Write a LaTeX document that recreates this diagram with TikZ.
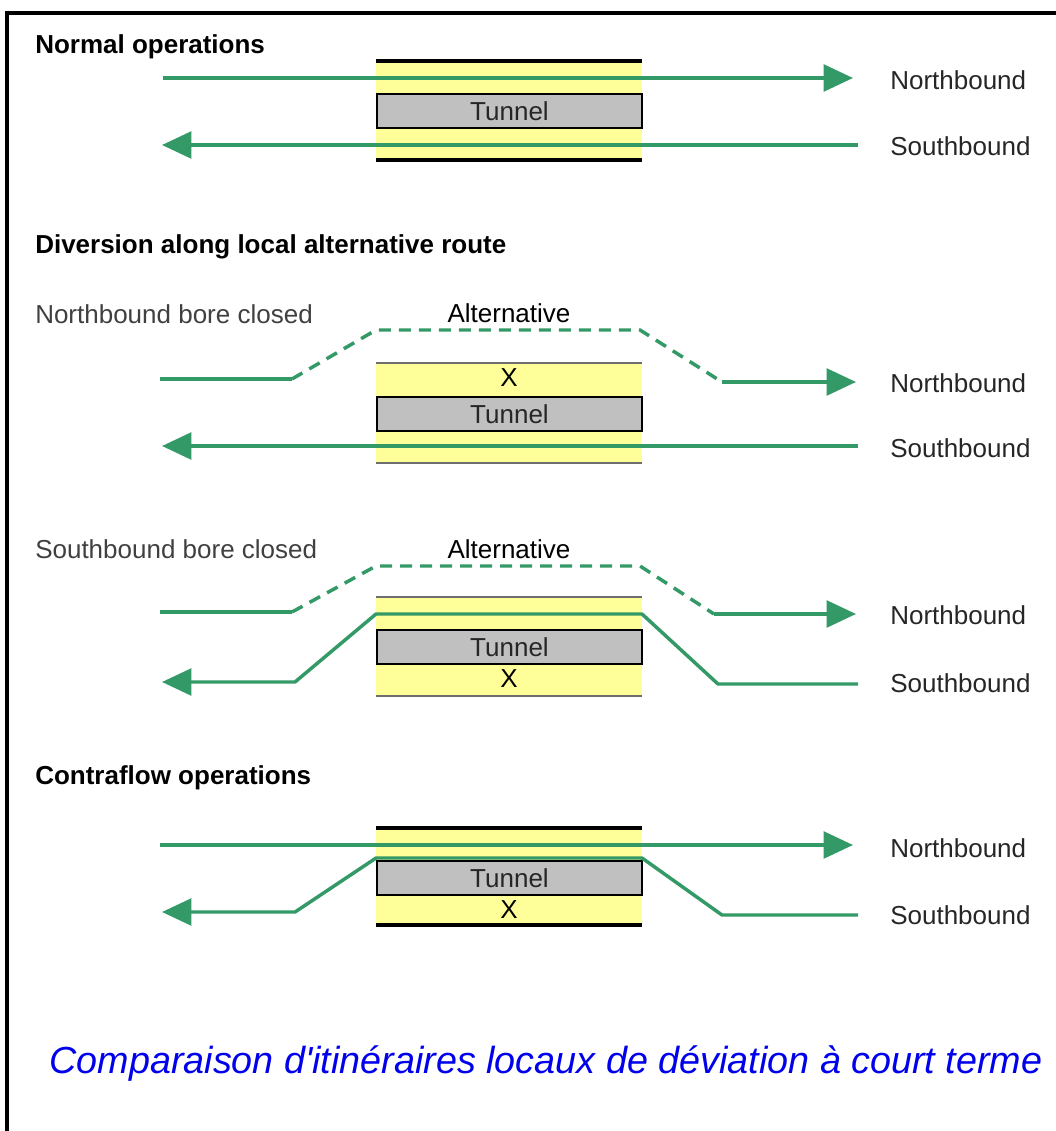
\documentclass[tikz,border=0pt]{standalone}
\usepackage{fontspec}
\setmainfont{Liberation Sans}
\newfontfamily\capfont{Liberation Sans}[Ligatures=TeXOff]
\usetikzlibrary{arrows.meta}
\definecolor{rgreen}{RGB}{51,153,102}
\definecolor{ryellow}{RGB}{255,255,153}
\definecolor{rgrey}{RGB}{192,192,192}
\definecolor{rblue}{RGB}{0,0,235}
\definecolor{edgegrey}{RGB}{110,110,110}
\begin{document}
\begin{tikzpicture}[x=0.75pt,y=-0.75pt,
  lbl/.style={anchor=west,inner sep=0pt,font=\fontsize{19.5}{22}\selectfont,text=black!85},
  sublbl/.style={anchor=west,inner sep=0pt,font=\fontsize{19.5}{22}\selectfont,text=black!75},
  head/.style={anchor=west,inner sep=0pt,font=\bfseries\fontsize{19.5}{22}\selectfont},
  alttxt/.style={inner sep=0pt,font=\fontsize{19.5}{22}\selectfont},
  xmark/.style={inner sep=0pt,font=\fontsize{19.5}{22}\selectfont},
  tunnel/.style={draw=black,line width=1.5pt,fill=rgrey,minimum width=198.5pt,minimum height=25pt,inner sep=0pt,font=\fontsize{19.5}{22}\selectfont,text=black!85},
  route/.style={draw=rgreen,line width=2.6pt,line join=round},
  alt/.style={route,dash pattern=on 9pt off 6pt},
  tip/.style={-{Triangle[length=22pt,width=20pt]}},
  blackedge/.style={line width=3pt,black},
  greyedge/.style={line width=2pt,edgegrey}
]
\useasboundingbox (0,0) rectangle (1056,1131);
\draw[line width=2.5pt] (7,1131) -- (7,13) -- (1056,13);

% ---------- Section 1: Normal operations
\node[head] (h1) at (35,47) {Normal operations};
\fill[ryellow] (376,61) rectangle (642,160);
\draw[blackedge] (376,61) -- (642,61);
\draw[blackedge] (376,160) -- (642,160);
\node[tunnel] (tn1) at (509.5,111) {Tunnel};
\coordinate (a1) at (163,78);
\coordinate (b1) at (853,78);
\draw[route,tip] (a1) -- (b1);
\coordinate (c1) at (858,145);
\coordinate (d1) at (162,145);
\draw[route,tip] (c1) -- (d1);
\node[lbl] (nb1) at (890,80) {Northbound};
\node[lbl] (sb1) at (890,146) {Southbound};

% ---------- Section 2
\node[head] (h2) at (35,247) {Diversion along local alternative route};
\node[sublbl] (s2) at (35,314) {Northbound bore closed};
\node[alttxt] (alt2) at (509,313) {Alternative};
\fill[ryellow] (376,363) rectangle (642,463);
\draw[greyedge] (376,363) -- (642,363);
\draw[greyedge] (376,463) -- (642,463);
\node[xmark] (x2) at (509,378) {X};
\node[tunnel] (tn2) at (509.5,414) {Tunnel};
\coordinate (n2a) at (160,379);
\coordinate (n2b) at (292,379);
\coordinate (n2c) at (376,330);
\coordinate (n2d) at (640,330);
\coordinate (n2e) at (722,382);
\coordinate (n2f) at (856,382);
\draw[route] (n2a) -- (n2b);
\draw[alt] (n2b) -- (n2c) -- (n2d) -- (n2e);
\draw[route,tip] (n2e) -- (n2f);
\coordinate (s2a) at (858,446);
\coordinate (s2b) at (162,446);
\draw[route,tip] (s2a) -- (s2b);
\node[lbl] (nb2) at (890,383) {Northbound};
\node[lbl] (sb2) at (890,448) {Southbound};

% ---------- Section 3
\node[sublbl] (s3) at (35,549) {Southbound bore closed};
\node[alttxt] (alt3) at (509,549) {Alternative};
\fill[ryellow] (376,597) rectangle (642,697);
\draw[greyedge] (376,597) -- (642,597);
\draw[greyedge] (376,696) -- (642,696);
\node[tunnel] (tn3) at (509.5,647) {Tunnel};
\node[xmark] (x3) at (509,679) {X};
\coordinate (n3a) at (160,612);
\coordinate (n3b) at (292,612);
\coordinate (n3c) at (376,566);
\coordinate (n3d) at (640,566);
\coordinate (n3e) at (714,614);
\coordinate (n3f) at (856,614);
\draw[route] (n3a) -- (n3b);
\draw[alt] (n3b) -- (n3c) -- (n3d) -- (n3e);
\draw[route,tip] (n3e) -- (n3f);
\coordinate (s3a) at (858,684);
\coordinate (s3b) at (718,684);
\coordinate (s3c) at (642,614);
\coordinate (s3d) at (376,614);
\coordinate (s3e) at (295,682);
\coordinate (s3f) at (162,682);
\draw[route,tip] (s3a) -- (s3b) -- (s3c) -- (s3d) -- (s3e) -- (s3f);
\node[lbl] (nb3) at (890,615) {Northbound};
\node[lbl] (sb3) at (890,683) {Southbound};

% ---------- Section 4: Contraflow
\node[head] (h4) at (35,778) {Contraflow operations};
\fill[ryellow] (376,828) rectangle (642,925);
\draw[blackedge] (376,828) -- (642,828);
\draw[blackedge] (376,925) -- (642,925);
\node[tunnel] (tn4) at (509.5,878) {Tunnel};
\node[xmark] (x4) at (509,910) {X};
\coordinate (n4a) at (160,845);
\coordinate (n4b) at (853,845);
\draw[route,tip] (n4a) -- (n4b);
\coordinate (s4a) at (858,915);
\coordinate (s4b) at (722,915);
\coordinate (s4c) at (642,858);
\coordinate (s4d) at (376,858);
\coordinate (s4e) at (295,912);
\coordinate (s4f) at (162,912);
\draw[route,tip] (s4a) -- (s4b) -- (s4c) -- (s4d) -- (s4e) -- (s4f);
\node[lbl] (nb4) at (890,848) {Northbound};
\node[lbl] (sb4) at (890,915) {Southbound};

% ---------- Caption
\node[inner sep=0pt,text=rblue,font=\capfont\itshape\fontsize{28.3}{34}\selectfont] (cap) at (546,1064) {Comparaison d'itinéraires locaux de déviation à court terme};
\end{tikzpicture}
\end{document}
